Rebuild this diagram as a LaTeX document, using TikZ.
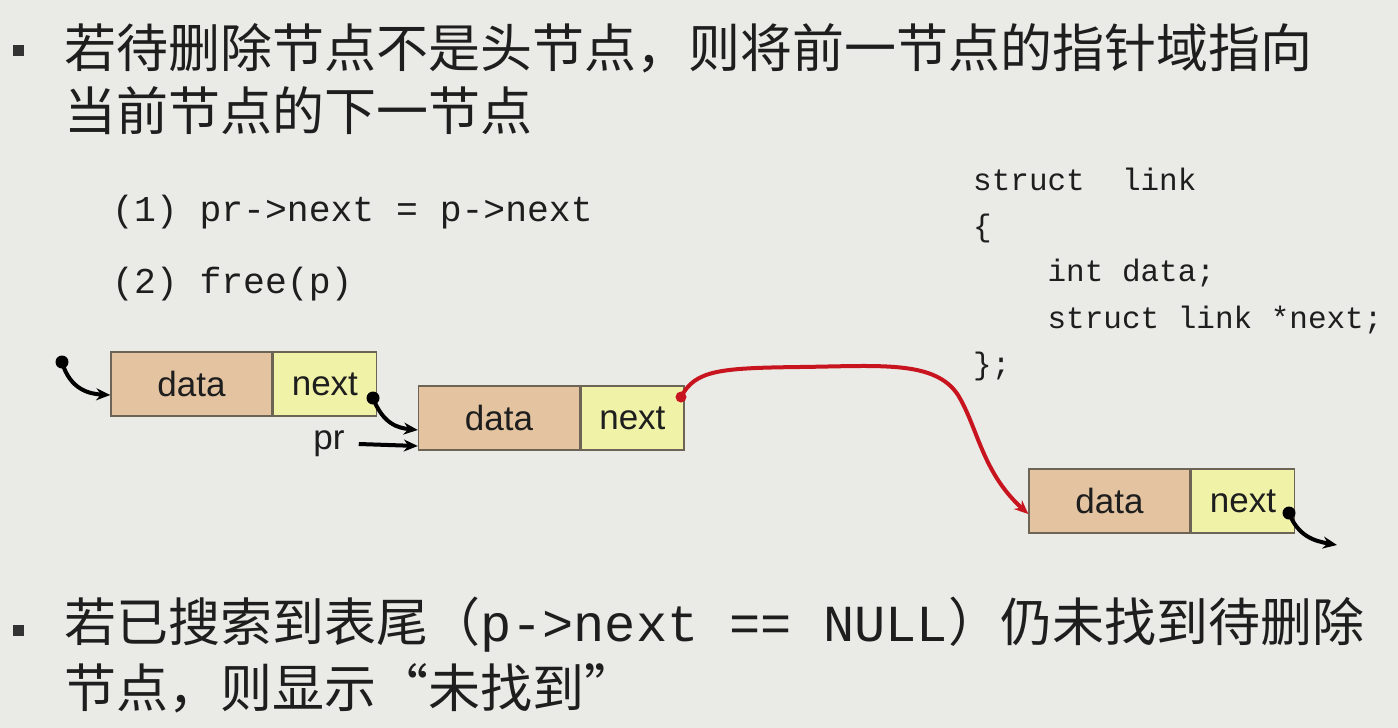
\documentclass[tikz,border=0pt]{standalone}
\usepackage{fontspec}
\setmainfont{Liberation Sans}
\newfontfamily\cjk{Noto Sans CJK SC}
\newfontfamily\code{Liberation Mono}
\usetikzlibrary{arrows.meta}
\definecolor{bg}{RGB}{234,234,231}
\definecolor{datafill}{RGB}{228,196,160}
\definecolor{nextfill}{RGB}{240,242,168}
\definecolor{boxline}{RGB}{110,100,85}
\definecolor{redline}{RGB}{200,20,30}
\definecolor{inktext}{RGB}{30,30,30}
\tikzset{
  cell/.style={draw=boxline, line width=1.4pt, minimum height=64pt, inner sep=0pt,
    text=inktext, font=\fontsize{35}{38}\selectfont},
  datacell/.style={cell, fill=datafill, minimum width=161pt},
  nextcell/.style={cell, fill=nextfill, minimum width=103pt},
  bigtext/.style={anchor=west, inner sep=0pt, text=inktext, font=\cjk\fontsize{52}{56}\selectfont},
  cmd/.style={anchor=base west, inner sep=0pt, text=inktext, font=\code\fontsize{36.4}{40}\selectfont},
  structline/.style={anchor=base west, inner sep=0pt, text=inktext, font=\code\fontsize{31}{34}\selectfont},
  ptr/.style={line width=4pt, -{Stealth[length=14pt,width=12pt]}},
  redptr/.style={ptr, draw=redline},
  bulletsq/.style={fill=black!80, minimum size=11pt, inner sep=0pt},
}
\begin{document}
\begin{tikzpicture}[x=1pt,y=-1pt]
\fill[bg] (0,0) rectangle (1398,728);
\useasboundingbox (0,0) rectangle (1398,728);

% top bullet text
\node[bulletsq] (b1) at (18,50) {};
\node[bigtext] (t1) at (64,48) {若待删除节点不是头节点，则将前一节点的指针域指向};
\node[bigtext] (t2) at (64,111) {当前节点的下一节点};

% code lines
\node[cmd] (c1) at (112,221) {(1) pr->next = p->next};
\node[cmd] (c2) at (112,293) {(2) free(p)};

% struct
\node[structline] (s1) at (973,190) {struct\ \ link};
\node[structline] (s2) at (973,236) {\{};
\node[structline] (s3) at (973,281) {\ \ \ \ int data;};
\node[structline] (s4) at (973,328) {\ \ \ \ struct link *next;};
\node[structline] (s5) at (973,374) {\};};

% list nodes
\node[datacell] (d1) at (191.5,384) {data};
\node[nextcell, anchor=west] (n1) at (d1.east) {next};
\node[datacell] (d2) at (499,418) {data};
\node[nextcell, anchor=west] (n2) at (d2.east) {next};
\node[datacell] (d3) at (1109.5,501) {data};
\node[nextcell, anchor=west] (n3) at (d3.east) {next};

\node[inner sep=0pt, text=inktext, font=\fontsize{35}{38}\selectfont] (pr) at (329,444) {pr};

% pointer origins
\coordinate (head) at (62,362);
\coordinate (p1) at (373,398);
\coordinate (p2) at (681,397);
\coordinate (p3) at (1289,513);
\coordinate (tail) at (1337,545);

\draw[ptr] (head) .. controls (70,390) and (90,394) .. ([yshift=-11pt]d1.west);
\draw[ptr] (p1) .. controls (383,424) and (398,428) .. ([yshift=-12pt]d2.west);
\draw[ptr] ([xshift=14pt]pr.east) -- ([yshift=-28pt]d2.west);
\draw[redptr] (p2) .. controls (695,370) and (720,368) .. (800,367)
   .. controls (880,366) and (935,360) .. (958,395)
   .. controls (978,428) and (982,472) .. ([yshift=-13pt]d3.west);
\draw[ptr] (p3) .. controls (1298,536) and (1314,541) .. (tail);

\fill (head) circle (6.5pt);
\fill (p1) circle (6.5pt);
\fill[redline] (p2) circle (5.5pt);
\fill (p3) circle (6.5pt);

% bottom bullet text
\node[bulletsq] (b2) at (18,630) {};
\node[bigtext] (t3) at (64,625) {若已搜索到表尾（{\code\fontsize{52}{56}\selectfont p->next == NULL}）仍未找到待删除};
\node[bigtext] (t4) at (64,688) {节点，则显示“未找到”};
\end{tikzpicture}
\end{document}
